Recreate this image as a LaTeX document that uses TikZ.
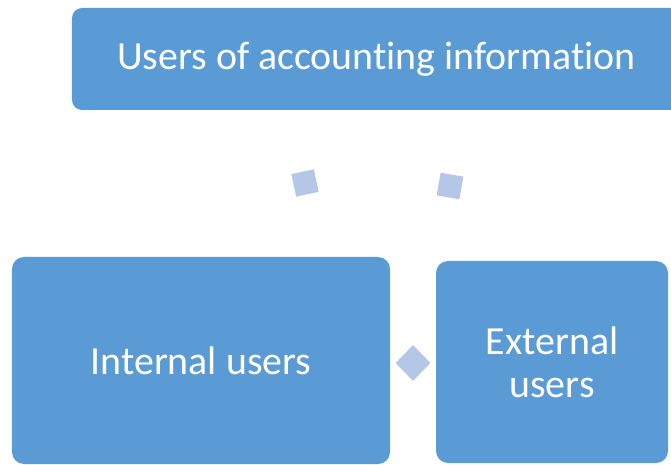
\documentclass[tikz,border=0pt]{standalone}
\usepackage{fontspec}
\setmainfont{Carlito}[RawFeature=-liga]
\usepackage{tikz}
\usetikzlibrary{shapes.geometric, positioning}
\definecolor{boxblue}{HTML}{5B9BD5}
\definecolor{linkblue}{HTML}{B4C7E7}
\tikzstyle{userbox} = [rectangle, rounded corners=12bp, fill=boxblue, text=white, align=center, font=\fontsize{40}{43}\selectfont, inner sep=0pt]
\tikzstyle{link} = [rectangle, fill=linkblue, minimum width=23bp, minimum height=23bp, inner sep=0pt]
\tikzstyle{sidelink} = [diamond, fill=linkblue, minimum width=35bp, minimum height=36bp, inner sep=0pt]

\begin{document}
\begin{tikzpicture}[x=1bp, y=1bp]
	\useasboundingbox (0,0) rectangle (671,-465);
	\node (Users) [userbox, rounded corners=10bp, minimum width=609bp, minimum height=102bp] at (376.5,-59) {Users of accounting information};
	\node (Internal) [userbox, minimum width=378bp, minimum height=207bp] at (201,-360.5) {Internal users};
	\node (External) [userbox, minimum width=232bp, minimum height=202bp] at (552,-362) {External\\users};
	\node (LinkLeft) [link, rotate=12] at (305,-183) {};
	\node (LinkRight) [link, rotate=-10] at (450,-186) {};
	\node (LinkSide) [sidelink] at (413,-363) {};
\end{tikzpicture}
\end{document}
